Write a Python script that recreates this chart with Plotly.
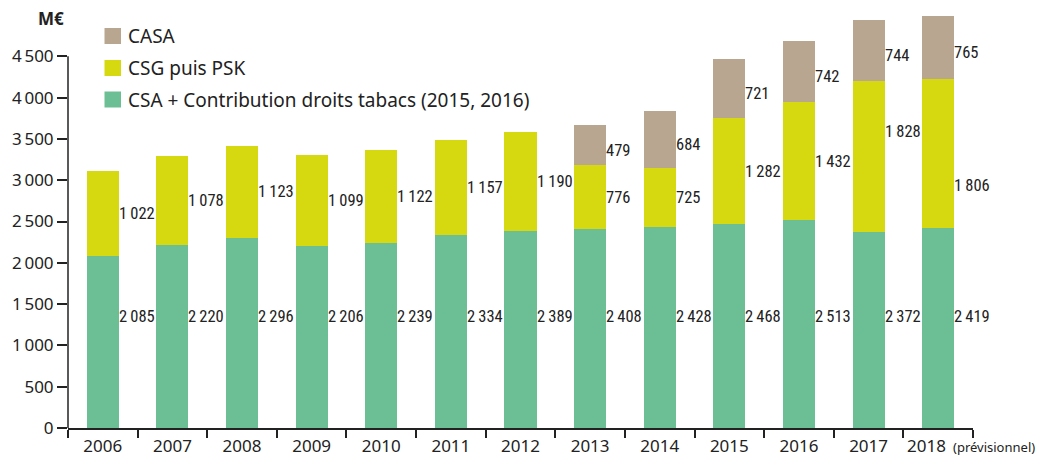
import plotly.graph_objects as go

years = ["2006", "2007", "2008", "2009", "2010", "2011", "2012",
         "2013", "2014", "2015", "2016", "2017", "2018"]
csa_tabac = [2085, 2220, 2296, 2206, 2239, 2334, 2389, 2408, 2428, 2468, 2513, 2372, 2419]
csg_psk = [1022, 1078, 1123, 1099, 1122, 1157, 1190, 776, 725, 1282, 1432, 1828, 1806]
casa = [None, None, None, None, None, None, None, 479, 684, 721, 742, 744, 765]
y_ticks = [0, 500, 1000, 1500, 2000, 2500, 3000, 3500, 4000, 4500]

series_names = ["CASA", "CSG puis PSK", "CSA + Contribution droits tabacs (2015, 2016)"]

GREEN = "#6cbf94"
YELLOW = "#d6d90f"
TAN = "#b9a690"
FONT = "Noto Sans"
NUM_FONT = "Roboto Condensed, Liberation Sans Narrow, Roboto, sans-serif"

# the page body has an 8px margin, so the figure is drawn 8px in from the window edge
W, H = 1036, 449
ML, MT, MB = 60, 0, 29
PW, PH = 905, 420


def fmt(v):
    return f"{v:,}".replace(",", "\u2009")


def px(x):   # window pixel -> paper x
    return (x - 8 - ML) / PW


def py(y):   # window pixel -> paper y
    return (MT + PH - (y - 8)) / PH


fig = go.Figure()
fig.add_trace(go.Bar(x=years, y=csa_tabac, name=series_names[2],
                     marker=dict(color=GREEN, line=dict(width=0))))
fig.add_trace(go.Bar(x=years, y=csg_psk, name=series_names[1],
                     marker=dict(color=YELLOW, line=dict(width=0))))
fig.add_trace(go.Bar(x=years, y=casa, name=series_names[0],
                     marker=dict(color=TAN, line=dict(width=0))))

# value labels to the right of each bar segment (x given as category index,
# since numeric-looking strings would be read as positions)
yellow_shift = [0] * 11 + [25, -32]
green_level = 1350
lab_font = dict(family=NUM_FONT, size=16.5, color="#222")
for i in range(len(years)):
    g, c, a = csa_tabac[i], csg_psk[i], casa[i]
    fig.add_annotation(x=i, y=green_level, text=fmt(g), showarrow=False,
                       xanchor="left", xshift=14, font=lab_font)
    fig.add_annotation(x=i, y=g + c / 2, text=fmt(c), showarrow=False,
                       xanchor="left", xshift=14, yshift=yellow_shift[i], font=lab_font)
    if a:
        fig.add_annotation(x=i, y=g + c + a / 2, text=fmt(a), showarrow=False,
                           xanchor="left", xshift=14, yshift=-5, font=lab_font)

# legend drawn by hand: squares + text
legend_colors = [TAN, YELLOW, GREEN]
legend_centers = [36, 68, 99.5]
for name, col, cy in zip(series_names, legend_colors, legend_centers):
    fig.add_shape(type="rect", xref="paper", yref="paper",
                  x0=px(104.5), x1=px(121), y0=py(cy + 8), y1=py(cy - 8),
                  fillcolor=col, line=dict(width=0))
    fig.add_annotation(xref="paper", yref="paper", x=px(126), y=py(cy), xanchor="left",
                       yanchor="middle", text=name, showarrow=False,
                       font=dict(family=FONT, size=19, color="#222"))

# y axis line only up to the last tick
fig.add_shape(type="line", xref="paper", yref="y", x0=0, x1=0, y0=0, y1=4500,
              line=dict(color="#222", width=1.5))

fig.add_annotation(xref="paper", yref="paper", x=px(66), y=py(18), xanchor="right", yanchor="middle",
                   text="<b>M€</b>", showarrow=False, font=dict(family=FONT, size=17, color="#222"))

# last year label nudged left to leave room for the "(prévisionnel)" note
tick_text = years[:-1] + [""]
fig.add_annotation(x=len(years) - 1, y=0, yshift=-17, xshift=-12, xanchor="center", yanchor="middle",
                   text=years[-1], showarrow=False, font=dict(family=FONT, size=17, color="#222"))
fig.add_annotation(xref="paper", yref="paper", x=px(951), y=py(447), xanchor="left", yanchor="middle",
                   text="(prévisionnel)", showarrow=False, font=dict(family=FONT, size=13, color="#222"))

fig.update_layout(
    width=W, height=H,
    margin=dict(l=ML, r=W - ML - PW, t=MT, b=MB),
    barmode="stack", bargap=0.54,
    plot_bgcolor="white", paper_bgcolor="white",
    font=dict(family=FONT, size=16, color="#222"),
    showlegend=False,
    xaxis=dict(type="category", range=[-0.5, len(years) - 0.5], showline=True,
               linecolor="#222", linewidth=1.5,
               ticks="outside", tickson="boundaries", ticklen=8, tickcolor="#222", tickwidth=1.5,
               tickvals=years, ticktext=tick_text, ticklabelstandoff=2,
               showgrid=False, automargin=False, tickfont=dict(family=FONT, size=17)),
    yaxis=dict(range=[0, 5085], showline=False, ticks="outside", ticklen=10, tickcolor="#222",
               tickwidth=1.5, tickvals=y_ticks, ticktext=[fmt(v) for v in y_ticks],
               showgrid=False, zeroline=False, automargin=False, tickfont=dict(family=FONT, size=17)),
)

fig.write_html("out.html")
